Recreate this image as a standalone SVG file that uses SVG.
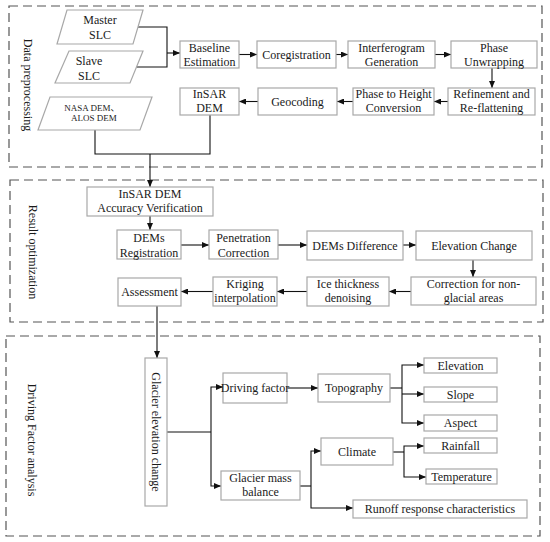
<svg xmlns="http://www.w3.org/2000/svg" width="550" height="542" viewBox="0 0 550 542" font-family="'Liberation Serif','Times New Roman','Noto Sans CJK SC',serif">
<defs>
<style>
.sec{fill:none;stroke:#555;stroke-width:1.2;stroke-dasharray:9,5}
.box{fill:#fff;stroke:#a8a8a8;stroke-width:1.2}
text{font-family:'Liberation Serif','Times New Roman','Noto Sans CJK SC',serif;font-size:12px;fill:#1a1a1a;text-anchor:middle}
.sm{font-size:9px}
.ln{fill:none;stroke:#111;stroke-width:1.1}
.ar{marker-end:url(#ah)}
</style>
<marker id="ah" markerWidth="7" markerHeight="6" refX="7" refY="3" orient="auto" markerUnits="userSpaceOnUse">
<path d="M0,0 L7,3 L0,6 Z" fill="#111"/>
</marker>
</defs>
<rect width="550" height="542" fill="#fff"/>

<g id="sections">
<rect class="sec" x="9" y="6" width="533" height="161"/>
<rect class="sec" x="10" y="180" width="533" height="142"/>
<rect class="sec" x="6" y="336" width="534" height="200"/>
<text transform="translate(28,85) rotate(90)" y="4">Data preprocessing</text>
<text transform="translate(33,252) rotate(90)" y="4">Result optimization</text>
<text transform="translate(32,440) rotate(90)" y="4">Driving Factor analysis</text>
</g>

<g id="connectors">
<path class="ln" d="M138,27 H167 V67 H136"/>
<path class="ln ar" d="M167,53 H180"/>
<path class="ln ar" d="M239,54.5 H257"/>
<path class="ln ar" d="M336,54.5 H348"/>
<path class="ln ar" d="M435,54.5 H451"/>
<path class="ln ar" d="M492,68 V88"/>
<path class="ln ar" d="M448,101.5 H434"/>
<path class="ln ar" d="M353,101.5 H337"/>
<path class="ln ar" d="M258,101.5 H239"/>
<path class="ln" d="M210,115 V154 H95 V130"/>
<path class="ln ar" d="M150,154 V187"/>
<path class="ln ar" d="M150,216 V230"/>
<path class="ln ar" d="M181,245 H209"/>
<path class="ln ar" d="M278,245 H307"/>
<path class="ln ar" d="M403,245 H416"/>
<path class="ln ar" d="M473,260 V277"/>
<path class="ln ar" d="M411,291.5 H389"/>
<path class="ln ar" d="M307,291.5 H277"/>
<path class="ln ar" d="M213,291.5 H181"/>
<path class="ln ar" d="M157,306 V358"/>
<path class="ln" d="M167,432 H211"/>
<path class="ln ar" d="M211,432 V387 H223"/>
<path class="ln ar" d="M211,432 V486 H221"/>
<path class="ln ar" d="M287,388 H318"/>
<path class="ln" d="M390,388 H402"/>
<path class="ln ar" d="M402,388 V365 H424"/>
<path class="ln ar" d="M402,394 H424"/>
<path class="ln ar" d="M402,388 V423 H424"/>
<path class="ln" d="M393,452 H404"/>
<path class="ln ar" d="M404,452 V446 H424"/>
<path class="ln ar" d="M404,452 V477 H426"/>
<path class="ln" d="M300,486 H311"/>
<path class="ln ar" d="M311,486 V451 H321"/>
<path class="ln ar" d="M311,486 V508 H353"/>
</g>

<g id="master-slc"><path class="box" d="M67,10 H143 L133,44 H57 Z"/><text x="100" y="24">Master</text><text x="100" y="39">SLC</text></g>
<g id="slave-slc"><path class="box" d="M69,51 H143 L130,83 H55 Z"/><text x="89" y="65">Slave</text><text x="89" y="80">SLC</text></g>
<g id="nasa-dem"><path class="box" d="M50,97 H152 L140,130 H38 Z"/><text class="sm" x="92" y="111">NASA DEM、</text><text class="sm" x="94" y="121">ALOS DEM</text></g>
<g id="baseline"><rect class="box" x="180" y="41" width="59" height="27"/><text x="209.5" y="51.5">Baseline</text><text x="209.5" y="66">Estimation</text></g>
<g id="coregistration"><rect class="box" x="257" y="41" width="79" height="27"/><text x="296.5" y="58.5">Coregistration</text></g>
<g id="interferogram"><rect class="box" x="348" y="41" width="87" height="27"/><text x="391.5" y="51.5">Interferogram</text><text x="391.5" y="66">Generation</text></g>
<g id="phase-unwrapping"><rect class="box" x="451" y="41" width="86" height="27"/><text x="494" y="51.5">Phase</text><text x="494" y="66">Unwrapping</text></g>
<g id="refinement"><rect class="box" x="448" y="88" width="87" height="27"/><text x="491.5" y="98">Refinement and</text><text x="491.5" y="112">Re-flattening</text></g>
<g id="phase-height"><rect class="box" x="353" y="88" width="81" height="27"/><text x="393.5" y="98">Phase to Height</text><text x="393.5" y="112">Conversion</text></g>
<g id="geocoding"><rect class="box" x="258" y="88" width="79" height="27"/><text x="297.5" y="106">Geocoding</text></g>
<g id="insar-dem"><rect class="box" x="180" y="88" width="59" height="27"/><text x="209.5" y="98">InSAR</text><text x="209.5" y="112">DEM</text></g>

<g id="accuracy"><rect class="box" x="87" y="187" width="126" height="29"/><text x="150" y="198">InSAR DEM</text><text x="150" y="212">Accuracy Verification</text></g>
<g id="dems-registration"><rect class="box" x="117" y="230" width="64" height="29"/><text x="149" y="242">DEMs</text><text x="149" y="256.5">Registration</text></g>
<g id="penetration"><rect class="box" x="209" y="230" width="69" height="29"/><text x="243.5" y="242">Penetration</text><text x="243.5" y="256.5">Correction</text></g>
<g id="dems-difference"><rect class="box" x="307" y="231" width="96" height="29"/><text x="355" y="249.5">DEMs Difference</text></g>
<g id="elevation-change"><rect class="box" x="416" y="231" width="116" height="29"/><text x="474" y="249.5">Elevation Change</text></g>
<g id="correction"><rect class="box" x="411" y="277" width="125" height="28"/><text x="473.5" y="287.5">Correction for non-</text><text x="473.5" y="302">glacial areas</text></g>
<g id="ice-thickness"><rect class="box" x="307" y="277" width="82" height="29"/><text x="348" y="287.5">Ice thickness</text><text x="348" y="302">denoising</text></g>
<g id="kriging"><rect class="box" x="213" y="277" width="64" height="29"/><text x="245" y="287.5">Kriging</text><text x="245" y="302">interpolation</text></g>
<g id="assessment"><rect class="box" x="118" y="278" width="63" height="28"/><text x="149.5" y="296">Assessment</text></g>

<g id="glacier-elevation-change"><rect class="box" x="145" y="358" width="22" height="148"/><text transform="translate(156,432) rotate(90)" y="4">Glacier elevation change</text></g>
<g id="driving-factor"><rect class="box" x="223" y="373" width="64" height="30"/><text x="255" y="392">Driving factor</text></g>
<g id="topography"><rect class="box" x="318" y="374" width="72" height="28"/><text x="354" y="392">Topography</text></g>
<g id="elevation"><rect class="box" x="424" y="358" width="73" height="15"/><text x="460.5" y="369.5">Elevation</text></g>
<g id="slope"><rect class="box" x="424" y="387" width="73" height="15"/><text x="460.5" y="398.5">Slope</text></g>
<g id="aspect"><rect class="box" x="424" y="415" width="73" height="16"/><text x="460.5" y="427">Aspect</text></g>
<g id="climate"><rect class="box" x="321" y="438" width="72" height="27"/><text x="357" y="456">Climate</text></g>
<g id="rainfall"><rect class="box" x="424" y="438" width="73" height="15"/><text x="460.5" y="449.5">Rainfall</text></g>
<g id="temperature"><rect class="box" x="426" y="469" width="71" height="15"/><text x="461.5" y="480.5">Temperature</text></g>
<g id="glacier-mass-balance"><rect class="box" x="221" y="471" width="79" height="29"/><text x="260.5" y="482">Glacier mass</text><text x="260.5" y="496">balance</text></g>
<g id="runoff"><rect class="box" x="353" y="500" width="174" height="18"/><text x="440" y="513">Runoff response characteristics</text></g>
</svg>
